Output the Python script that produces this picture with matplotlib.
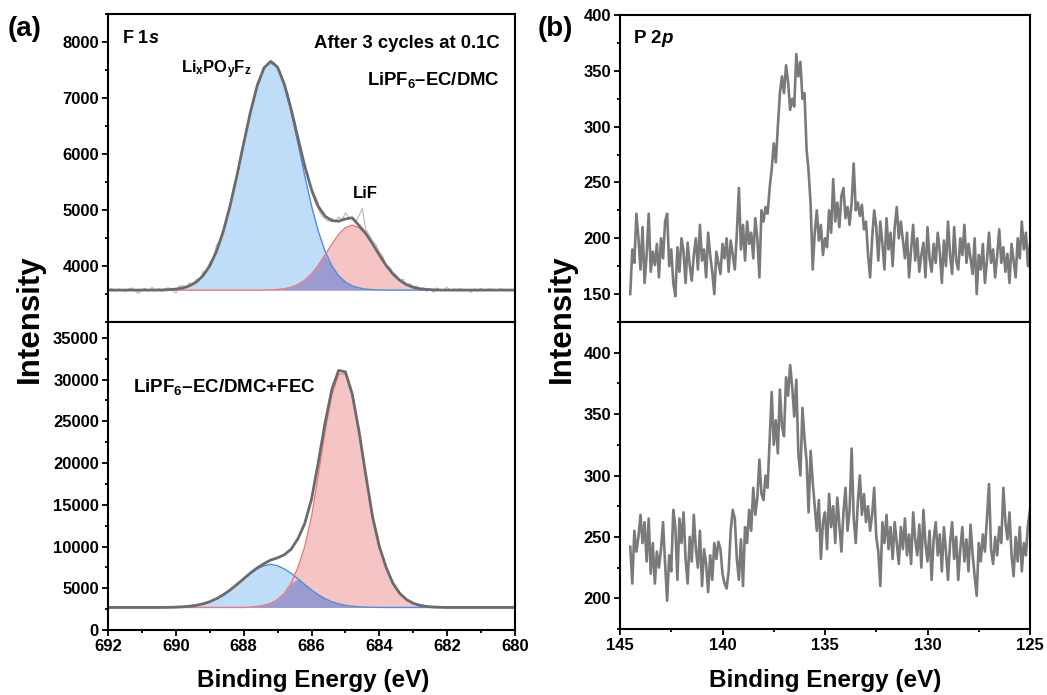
import numpy as np
import matplotlib
matplotlib.use('Agg')
import matplotlib.pyplot as plt
from matplotlib.ticker import MultipleLocator

plt.rcParams['font.family'] = ['Liberation Sans', 'DejaVu Sans']
plt.rcParams['font.weight'] = 'bold'
plt.rcParams['mathtext.fontset'] = 'custom'
plt.rcParams['mathtext.rm'] = 'Liberation Sans:bold'
plt.rcParams['mathtext.it'] = 'Liberation Sans:italic:bold'
plt.rcParams['mathtext.bf'] = 'Liberation Sans:bold'

# ---- F 1s, LiPF6-EC/DMC (fitted curves on 0.2 eV grid, 692 -> 680) ----
f1s_top_blue = [3570, 3570, 3570, 3570, 3570, 3570, 3570, 3570, 3572, 3578,
                3588, 3608, 3646, 3713, 3826, 4003, 4264, 4621, 5076, 5612,
                6189, 6750, 7222, 7539, 7650, 7539, 7222, 6750, 6189, 5612,
                5076, 4621, 4264, 4003, 3826, 3713, 3646, 3608, 3588, 3578,
                3572, 3570, 3570, 3570, 3570, 3570, 3570, 3570, 3570, 3570,
                3570, 3570, 3570, 3570, 3570, 3570, 3570, 3570, 3570, 3570, 3570]
f1s_top_red = [3570, 3570, 3570, 3570, 3570, 3570, 3570, 3570, 3570, 3570,
               3570, 3570, 3570, 3570, 3570, 3570, 3570, 3570, 3570, 3570,
               3570, 3570, 3570, 3570, 3574, 3581, 3594, 3621, 3668, 3745,
               3859, 4012, 4196, 4390, 4564, 4686, 4730, 4686, 4564, 4390,
               4196, 4012, 3859, 3745, 3668, 3621, 3594, 3581, 3574, 3570,
               3570, 3570, 3570, 3570, 3570, 3570, 3570, 3570, 3570, 3570, 3570]
f1s_top_env = [3570, 3570, 3570, 3570, 3570, 3570, 3570, 3570, 3572, 3578,
               3588, 3608, 3646, 3713, 3826, 4003, 4264, 4621, 5076, 5612,
               6189, 6750, 7222, 7539, 7654, 7550, 7246, 6801, 6287, 5787,
               5365, 5063, 4890, 4810, 4800, 4840, 4860, 4724, 4582, 4398,
               4198, 4012, 3859, 3745, 3668, 3621, 3594, 3581, 3574, 3570,
               3570, 3570, 3570, 3570, 3570, 3570, 3570, 3570, 3570, 3570, 3570]
# raw counts on 0.1 eV grid, 692 -> 680
f1s_top_raw = [3565, 3600, 3550, 3590, 3575, 3540, 3585, 3610, 3560, 3510,
               3580, 3600, 3555, 3620, 3570, 3595, 3545, 3600, 3610, 3560,
               3520, 3640, 3650, 3600, 3700, 3660, 3760, 3730, 3900, 3880,
               4080, 4100, 4380, 4420, 4600, 4880, 5040, 5400, 5580, 5960,
               6220, 6430, 6790, 6950, 7260, 7400, 7500, 7620, 7600, 7640,
               7520, 7440, 7200, 7080, 6760, 6600, 6250, 6100, 5740, 5620,
               5330, 5150, 5020, 4900, 4840, 4800, 4850, 4790, 4880, 4820,
               4950, 4870, 4860, 4800, 4900, 5030, 4650, 4560, 4450, 4380,
               4250, 4180, 3980, 3990, 3880, 3840, 3720, 3770, 3640, 3690,
               3600, 3640, 3560, 3610, 3545, 3590, 3530, 3610, 3565, 3580,
               3620, 3560, 3590, 3575, 3600, 3550, 3580, 3530, 3590, 3570,
               3600, 3555, 3585, 3590, 3565, 3580, 3595, 3560, 3585, 3575, 3580]

# ---- F 1s, LiPF6-EC/DMC+FEC (0.2 eV grid, 692 -> 680) ----
f1s_bot_blue = [2700, 2700, 2700, 2700, 2700, 2700, 2700, 2700, 2709, 2720,
                2740, 2779, 2846, 2957, 3132, 3390, 3751, 4221, 4796, 5451,
                6136, 6783, 7320, 7700, 7880, 7700, 7320, 6783, 6136, 5451,
                4796, 4221, 3751, 3390, 3132, 2957, 2846, 2779, 2740, 2720,
                2709, 2700, 2700, 2700, 2700, 2700, 2700, 2700, 2700, 2700,
                2700, 2700, 2700, 2700, 2700, 2700, 2700, 2700, 2700, 2700, 2700]
f1s_bot_red = [2700, 2700, 2700, 2700, 2700, 2700, 2700, 2700, 2700, 2700,
               2700, 2700, 2700, 2700, 2700, 2700, 2700, 2700, 2700, 2700,
               2700, 2750, 2820, 2950, 3200, 3650, 4400, 5600, 7500, 10000,
               13550, 18548, 23752, 28143, 30666, 30666, 28143, 23752, 18548, 13550,
               10000, 7500, 5600, 4400, 3650, 3200, 2950, 2820, 2750, 2720,
               2700, 2700, 2700, 2700, 2700, 2700, 2700, 2700, 2700, 2700, 2700]
f1s_bot_env = [2700, 2700, 2700, 2700, 2700, 2700, 2700, 2700, 2709, 2720,
               2740, 2779, 2846, 2957, 3132, 3390, 3751, 4221, 4796, 5451,
               6136, 6833, 7440, 7950, 8380, 8650, 9020, 9683, 10936, 12751,
               15646, 20069, 24803, 28833, 31098, 30923, 28289, 23831, 18588, 13570,
               10009, 7500, 5600, 4400, 3650, 3200, 2950, 2820, 2750, 2720,
               2700, 2700, 2700, 2700, 2700, 2700, 2700, 2700, 2700, 2700, 2700]

# ---- P 2p raw spectra, 0.1 eV grid, 144.5 -> 125.0 ----
p2p_top = [150, 190, 178, 222, 200, 172, 210, 160, 185, 222,
           170, 188, 176, 195, 165, 200, 182, 215, 222, 175,
           190, 160, 148, 192, 170, 200, 188, 160, 196, 176,
           162, 185, 200, 172, 212, 180, 190, 165, 205, 185,
           170, 150, 188, 178, 168, 195, 182, 200, 170, 198,
           185, 172, 205, 245, 190, 212, 180, 215, 195, 205,
           182, 218, 200, 165, 225, 215, 228, 222, 245, 262,
           285, 268, 300, 330, 345, 330, 355, 340, 315, 325,
           318, 365, 345, 358, 325, 330, 280, 260, 230, 172,
           205, 225, 198, 212, 185, 200, 192, 225, 205, 253,
           215, 232, 210, 238, 245, 218, 228, 212, 232, 267,
           225, 232, 220, 230, 208, 215, 185, 165, 200, 225,
           210, 180, 215, 195, 172, 218, 190, 205, 175, 210,
           228, 200, 215, 198, 182, 205, 165, 190, 212, 180,
           200, 170, 185, 196, 165, 210, 182, 170, 195, 178,
           205, 188, 160, 198, 175, 215, 185, 168, 210, 180,
           172, 200, 185, 212, 178, 195, 182, 168, 200, 150,
           185, 172, 195, 160, 180, 205, 178, 190, 165, 185,
           208, 178, 192, 170, 186, 160, 195, 180, 165, 200,
           182, 215, 190, 205, 175, 195]
p2p_bot = [242, 212, 255, 238, 250, 268, 245, 262, 230, 265,
           220, 245, 212, 238, 225, 240, 262, 228, 198, 235,
           222, 272, 258, 215, 265, 245, 270, 232, 212, 250,
           230, 268, 240, 225, 255, 210, 240, 228, 205, 235,
           215, 245, 232, 246, 240, 220, 212, 208, 222, 255,
           272, 265, 232, 215, 248, 210, 258, 245, 272, 255,
           290, 268, 282, 313, 285, 280, 300, 290, 330, 368,
           325, 345, 318, 370, 340, 332, 380, 365, 390, 372,
           348, 378, 318, 300, 355, 330, 312, 270, 320, 295,
           275, 255, 280, 232, 262, 270, 240, 285, 258, 275,
           245, 282, 260, 238, 270, 290, 255, 272, 322, 265,
           245, 278, 300, 268, 285, 262, 275, 255, 268, 290,
           250, 238, 210, 262, 245, 268, 240, 258, 232, 262,
           245, 228, 258, 240, 265, 235, 252, 228, 270, 248,
           235, 260, 225, 272, 245, 230, 255, 215, 248, 262,
           235, 252, 222, 258, 238, 215, 245, 262, 232, 250,
           215, 240, 258, 230, 248, 222, 260, 236, 218, 202,
           245, 230, 252, 238, 265, 293, 240, 228, 250, 235,
           258, 245, 290, 262, 248, 270, 235, 218, 250, 230,
           258, 222, 245, 235, 260, 272]

be_f = np.linspace(692, 680, len(f1s_top_blue))
be_f_raw = np.linspace(692, 680, len(f1s_top_raw))
be_p = np.linspace(144.5, 125.0, len(p2p_top))

BLUE_LINE = '#4a90e2'
BLUE_FILL = '#bfdcf8'
RED_LINE = '#ea7a7a'
RED_FILL = '#f5c4c4'
OVERLAP = '#9b9bcf'
ENV = '#6b6b6b'
RAW = '#b8b8b8'
P_LINE = '#7a7a7a'

fig = plt.figure(figsize=(10.47, 6.95), dpi=100)

W, H = 1047.0, 695.0
def add_ax(x0, y0, x1, y1):
    return fig.add_axes([x0 / W, 1 - y1 / H, (x1 - x0) / W, (y1 - y0) / H])

ax_a1 = add_ax(108, 14, 515, 322)
ax_a2 = add_ax(108, 322, 515, 630)
ax_b1 = add_ax(620, 15, 1030, 322)
ax_b2 = add_ax(620, 322, 1030, 629)


def draw_fit(ax, blue, red, env, base, raw=None):
    blue = np.array(blue)
    red = np.array(red)
    ax.fill_between(be_f, base, blue, color=BLUE_FILL, lw=0)
    ax.fill_between(be_f, base, red, color=RED_FILL, lw=0)
    ax.fill_between(be_f, base, np.minimum(blue, red), color=OVERLAP, lw=0)
    if raw is not None:
        ax.plot(be_f_raw, raw, color=RAW, lw=0.8)
    ax.plot(be_f, blue, color=BLUE_LINE, lw=1.0)
    ax.plot(be_f, red, color=RED_LINE, lw=1.0)
    ax.plot(be_f, env, color=ENV, lw=2.0)


draw_fit(ax_a1, f1s_top_blue, f1s_top_red, f1s_top_env, 3570, f1s_top_raw)
draw_fit(ax_a2, f1s_bot_blue, f1s_bot_red, f1s_bot_env, 2700)

ax_b1.plot(be_p, p2p_top, color=P_LINE, lw=1.9)
ax_b2.plot(be_p, p2p_bot, color=P_LINE, lw=1.9)

# limits and ticks
ax_a1.set_ylim(3000, 8500)
ax_a2.set_ylim(0, 36900)
ax_b1.set_ylim(125, 400)
ax_b2.set_ylim(175, 425)
for ax in (ax_a1, ax_a2):
    ax.set_xlim(692, 680)
    ax.xaxis.set_major_locator(MultipleLocator(2))
    ax.xaxis.set_minor_locator(MultipleLocator(1))
for ax in (ax_b1, ax_b2):
    ax.set_xlim(145, 125)
    ax.xaxis.set_major_locator(MultipleLocator(5))
    ax.xaxis.set_minor_locator(MultipleLocator(2.5))
    ax.yaxis.set_major_locator(MultipleLocator(50))
    ax.yaxis.set_minor_locator(MultipleLocator(25))
ax_a1.yaxis.set_major_locator(MultipleLocator(1000))
ax_a1.yaxis.set_minor_locator(MultipleLocator(500))
ax_a1.set_yticks([4000, 5000, 6000, 7000, 8000])
ax_a2.yaxis.set_major_locator(MultipleLocator(5000))
ax_a2.yaxis.set_minor_locator(MultipleLocator(2500))
ax_b1.set_yticks([150, 200, 250, 300, 350, 400])
ax_b2.set_yticks([200, 250, 300, 350, 400])

for ax in (ax_a1, ax_a2, ax_b1, ax_b2):
    for s in ax.spines.values():
        s.set_linewidth(1.5)
    ax.tick_params(which='both', direction='out', top=False, right=False, width=1.3)
    ax.tick_params(which='major', length=4.5, labelsize=12, pad=2)
    ax.tick_params(which='minor', length=2.5)
    for lab in ax.get_xticklabels() + ax.get_yticklabels():
        lab.set_fontweight('bold')

for ax in (ax_a1, ax_b1):
    ax.tick_params(which='both', bottom=False, labelbottom=False)

# annotations
ax_a1.text(0.034, 0.922, r'F 1$s$', transform=ax_a1.transAxes, fontsize=13,
           fontweight='bold', va='center', ha='left')
ax_a1.text(0.963, 0.903, 'After 3 cycles at 0.1C', transform=ax_a1.transAxes,
           fontsize=13.3, fontweight='bold', va='center', ha='right')
ax_a1.text(0.963, 0.786, r'LiPF$_{\rm 6}$–EC/DMC', transform=ax_a1.transAxes,
           fontsize=13.3, fontweight='bold', va='center', ha='right')
ax_a1.text(688.8, 7500, r'Li$_{\rm x}$PO$_{\rm y}$F$_{\rm z}$', fontsize=12,
           fontweight='bold', va='center', ha='center')
ax_a1.text(684.4, 5300, 'LiF', fontsize=12, fontweight='bold', va='center', ha='center')
ax_a2.text(0.061, 0.789, r'LiPF$_{\rm 6}$–EC/DMC+FEC', transform=ax_a2.transAxes,
           fontsize=13.5, fontweight='bold', va='center', ha='left')
ax_b1.text(0.032, 0.925, r'P 2$p$', transform=ax_b1.transAxes, fontsize=13.5,
           fontweight='bold', va='center', ha='left')

fig.text(25 / W, 1 - 29 / H, '(a)', fontsize=20, fontweight='bold', ha='center', va='center')
fig.text(555 / W, 1 - 29 / H, '(b)', fontsize=20, fontweight='bold', ha='center', va='center')

fig.text(30 / W, 1 - 319 / H, 'Intensity', rotation=90, fontsize=22.5,
         fontweight='bold', ha='center', va='center')
fig.text(562 / W, 1 - 319 / H, 'Intensity', rotation=90, fontsize=22.5,
         fontweight='bold', ha='center', va='center')
fig.text(313 / W, 1 - 680 / H, 'Binding Energy (eV)', fontsize=17.5,
         fontweight='bold', ha='center', va='center')
fig.text(825 / W, 1 - 680 / H, 'Binding Energy (eV)', fontsize=17.5,
         fontweight='bold', ha='center', va='center')

fig.savefig('out.png', dpi=100)
